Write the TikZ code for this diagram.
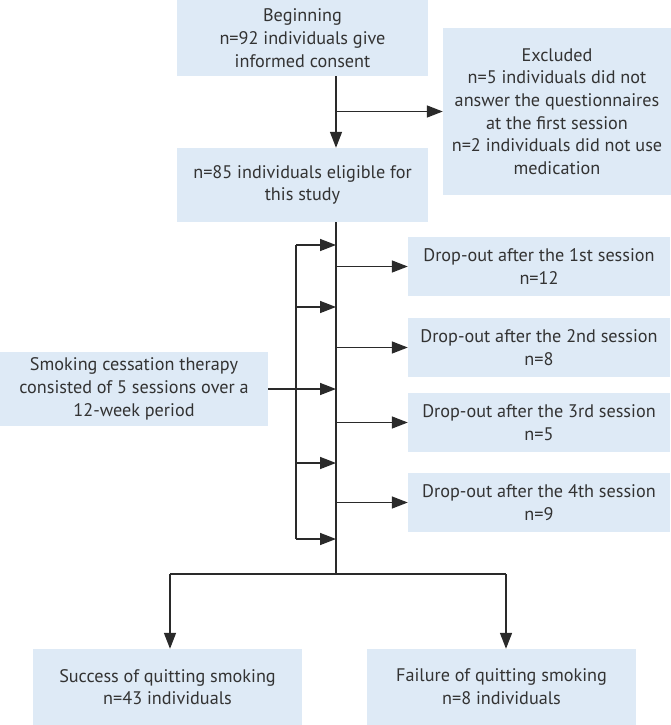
\documentclass[tikz,border=0pt]{standalone}
\usepackage{fontspec}
\setmainfont{PT Sans}
\usetikzlibrary{arrows.meta}
\definecolor{boxblue}{HTML}{DEEAF6}
\definecolor{txt}{HTML}{333333}
\definecolor{ln}{HTML}{2A2A2A}
\tikzset{
  box/.style={fill=boxblue, text=txt, align=center, inner sep=0pt, font=\fontsize{18.2}{22.7}\selectfont},
  arr/.style={draw=ln, line width=1.5pt, -{Triangle[length=16pt,width=12pt]}},
  ln/.style={draw=ln, line width=1.5pt},
}
\begin{document}
\begin{tikzpicture}[x=1pt,y=-1pt]
\useasboundingbox (0,0) rectangle (671,725);
\node[box, minimum width=251pt, minimum height=76pt] (b1) at (302.5,38) {Beginning\\n=92 individuals give\\informed consent};
\node[box, minimum width=251pt, minimum height=74pt] (b2) at (302.5,185) {n=85 individuals eligible for\\this study};
\node[box, minimum width=228pt, minimum height=167pt] (ex) at (557,111.5) {Excluded\\n=5 individuals did not\\answer the questionnaires\\at the first session\\n=2 individuals did not use\\medication};
\node[box, minimum width=268pt, minimum height=74pt] (sm) at (134,389) {Smoking cessation therapy\\consisted of 5 sessions over a\\12-week period};
\node[box, minimum width=262pt, minimum height=59pt] (d1) at (539,266.5) {Drop-out after the 1st session\\n=12};
\node[box, minimum width=262pt, minimum height=59pt] (d2) at (539,347.5) {Drop-out after the 2nd session\\n=8};
\node[box, minimum width=262pt, minimum height=59pt] (d3) at (539,422.5) {Drop-out after the 3rd session\\n=5};
\node[box, minimum width=262pt, minimum height=59pt] (d4) at (539,502.5) {Drop-out after the 4th session\\n=9};
\node[box, minimum width=269pt, minimum height=76pt] (su) at (167.5,687) {Success of quitting smoking\\n=43 individuals};
\node[box, minimum width=269pt, minimum height=76pt] (fa) at (501.5,687) {Failure of quitting smoking\\n=8 individuals};
% helper coordinates
\coordinate (mx) at (336,0);
\coordinate (sp) at (336,574);
\coordinate (spl) at (170,574);
\coordinate (spr) at (506,574);
\coordinate (bt) at (296,245);
\coordinate (b2y) at (296,307);
\coordinate (b3y) at (296,463);
\coordinate (bb) at (296,539);
% main flow
\draw[arr] (b1.south -| mx) -- (b2.north -| mx);
\draw[arr] (mx |- ex) -- (ex.west);
\draw[ln] (b2.south -| mx) -- (sp);
\draw[arr] (mx |- d1) -- (d1.west);
\draw[arr] (mx |- d2) -- (d2.west);
\draw[arr] (mx |- d3) -- (d3.west);
\draw[arr] (mx |- d4) -- (d4.west);
% bracket
\draw[ln] (bt) -- (bb);
\draw[arr] (bt) -- (bt -| mx);
\draw[arr] (b2y) -- (b2y -| mx);
\draw[arr] (sm.east) -- (sm.east -| mx);
\draw[arr] (b3y) -- (b3y -| mx);
\draw[arr] (bb) -- (bb -| mx);
% split
\draw[ln] (spl) -- (spr);
\draw[arr] (spl) -- (su.north -| spl);
\draw[arr] (spr) -- (fa.north -| spr);
\end{tikzpicture}
\end{document}
